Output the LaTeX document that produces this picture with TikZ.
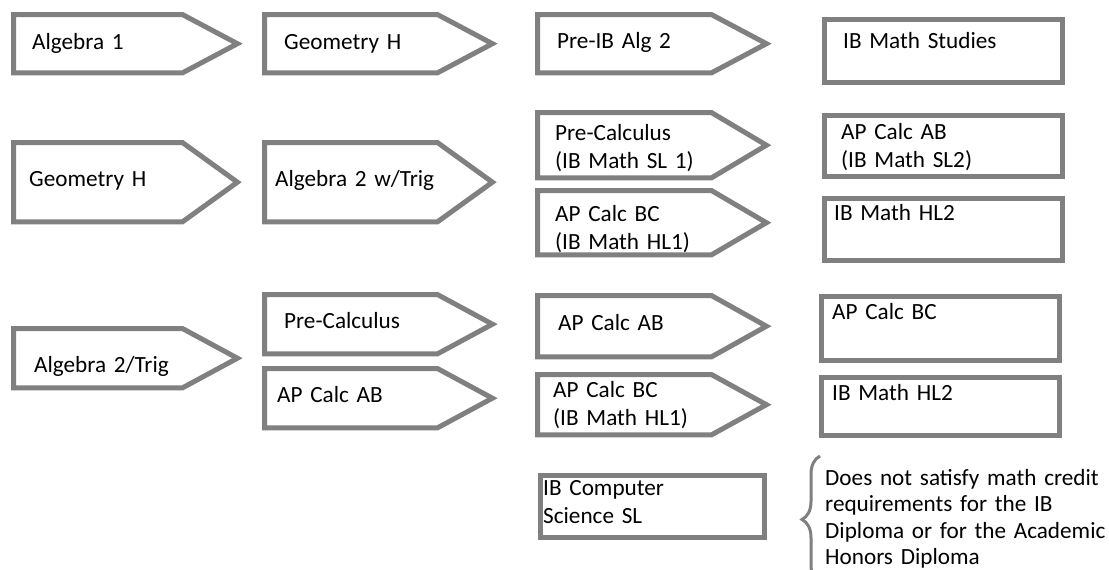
\documentclass[tikz,border=0pt]{standalone}
\usepackage{fontspec}
\setmainfont{Carlito}
\usepackage{tikz}
\usetikzlibrary{positioning,decorations.pathreplacing}
\definecolor{boxgray}{RGB}{128,128,128}

\begin{document}
\begin{tikzpicture}[x=1pt, y=-1pt,
    body/.style={rectangle, anchor=north west, inner sep=0pt},
    course/.style={body, draw=boxgray, line width=5pt},
    outline/.style={draw=boxgray, line width=5pt, line join=miter},
    txt/.style={anchor=base west, inner sep=0pt, text width=250pt, align=left,
      font=\fontsize{23.2}{28}\selectfont},
    brc/.style={draw=boxgray, line width=3pt, decorate,
      decoration={brace, amplitude=18pt}}]
    \useasboundingbox (0,0) rectangle (1109,570);

    % Row 1
    \node[body, minimum width=168.5pt, minimum height=58pt] (a1) at (13.5,14.5) {};
    \node[body, minimum width=172.5pt, minimum height=58pt] (g1) at (264.5,14.5) {};
    \node[body, minimum width=173.5pt, minimum height=58pt] (p1) at (537.5,14.5) {};
    \node[course, minimum width=238pt, minimum height=63pt] (s1) at (821.5,16.5) {};
    \node[txt] (a1t) at (32,49) {Algebra 1};
    \node[txt] (g1t) at (284,49) {Geometry H};
    \node[txt] (p1t) at (557,48) {Pre-IB Alg 2};
    \node[txt] (s1t) at (843,48) {IB Math Studies};

    % Row 2
    \node[body, minimum width=168.5pt, minimum height=79pt] (g2) at (13.5,142.5) {};
    \node[body, minimum width=172.5pt, minimum height=79pt] (w2) at (264.5,142.5) {};
    \node[body, minimum width=173.5pt, minimum height=65pt] (sl1) at (537.5,112.5) {};
    \node[body, minimum width=173.5pt, minimum height=64pt] (hl1) at (537.5,190.5) {};
    \node[course, minimum width=238pt, minimum height=61pt] (sl2) at (821.5,112.5) {};
    \node[course, minimum width=238pt, minimum height=62pt] (hl2) at (821.5,195.5) {};
    \node[txt] (g2t) at (29,186) {Geometry H};
    \node[txt] (w2t) at (275,186) {Algebra 2 w/Trig};
    \node[txt] (sl1t) at (555,140) {Pre-Calculus\\(IB Math SL 1)};
    \node[txt] (hl1t) at (555,221) {AP Calc BC\\(IB Math HL1)};
    \node[txt] (sl2t) at (841,139) {AP Calc AB\\(IB Math SL2)};
    \node[txt] (hl2t) at (834,220) {IB Math HL2};

    % Row 3
    \node[body, minimum width=168.5pt, minimum height=59pt] (t3) at (13.5,328.5) {};
    \node[body, minimum width=172.5pt, minimum height=59pt] (pc3) at (264.5,294.5) {};
    \node[body, minimum width=172.5pt, minimum height=59pt] (ab3) at (264.5,368.5) {};
    \node[body, minimum width=173.5pt, minimum height=61pt] (ab4) at (537.5,295.5) {};
    \node[body, minimum width=173.5pt, minimum height=60pt] (hl3) at (537.5,374.5) {};
    \node[course, minimum width=238pt, minimum height=64pt] (bc4) at (818.5,293.5) {};
    \node[course, minimum width=238pt, minimum height=58pt] (hl4) at (818.5,374.5) {};
    \node[txt] (t3t) at (34,372) {Algebra 2/Trig};
    \node[txt] (pc3t) at (284,328) {Pre-Calculus};
    \node[txt] (ab3t) at (277,402) {AP Calc AB};
    \node[txt] (ab4t) at (558,330) {AP Calc AB};
    \node[txt] (hl3t) at (553,397) {AP Calc BC\\(IB Math HL1)};
    \node[txt] (bc4t) at (832,319) {AP Calc BC};
    \node[txt] (hl4t) at (832,400) {IB Math HL2};

    % pointed course boxes
    \foreach \n in {a1,g1,p1,g2,w2,sl1,hl1,t3,pc3,ab3,ab4,hl3}
      \draw[outline] (\n.north west) -- (\n.north east) -- ([xshift=55pt]\n.east)
        -- (\n.south east) -- (\n.south west) -- cycle;

    % Row 4
    \node[course, minimum width=224pt, minimum height=62pt] (cs) at (537.5,472.5) {};
    \node[txt] (cst) at (543,495) {IB Computer\\Science SL};
    \coordinate (brbot) at (820,583);
    \coordinate (brtop) at (820,456);
    \draw[brc] (brbot) -- (brtop);
    \node[txt, text width=290pt, font=\fontsize{23.2}{26.5}\selectfont] (note) at (825,485)
      {Does not satisfy math credit\\requirements for the IB\\Diploma or for the Academic\\Honors Diploma};
\end{tikzpicture}
\end{document}
